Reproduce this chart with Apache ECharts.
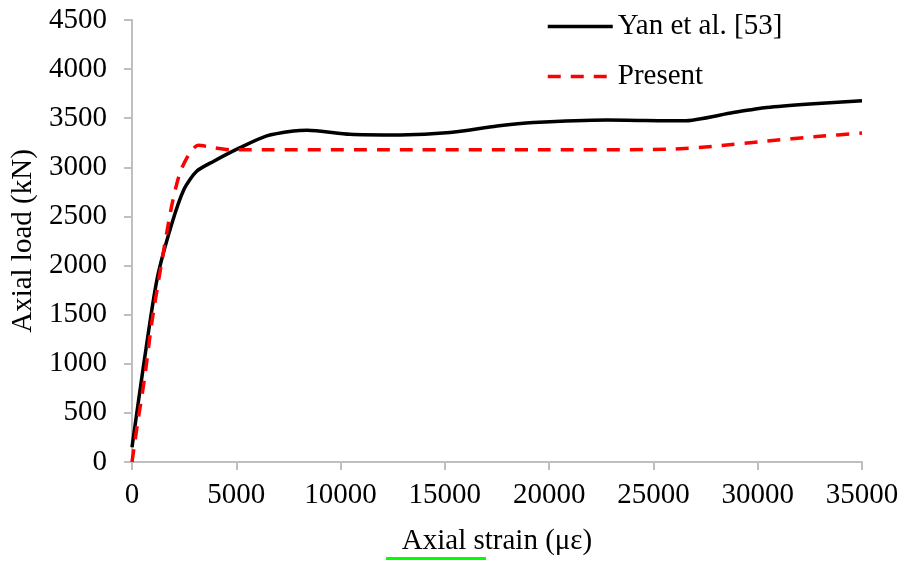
<!DOCTYPE html>
<html>
<head>
<meta charset="utf-8">
<title>Axial load vs axial strain</title>
<script src="https://cdn.jsdelivr.net/npm/echarts@6/dist/echarts.min.js"></script>
<style>
  html, body { margin: 0; padding: 0; background: #fff; }
  #chart { width: 905px; height: 562px; }
</style>
</head>
<body>
<div id="chart"></div>
<script>
// strain (με), load (kN)
const yanStrain = [0, 600, 1200, 1900, 2500, 3100, 3900, 5180, 6460, 7740, 8400, 10450, 12850, 15250, 17500, 19240, 22760, 26430, 28830, 30430, 32500, 35000]
const yanLoad = [150, 1050, 1860, 2420, 2780, 2960, 3060, 3200, 3320, 3370, 3378, 3337, 3330, 3354, 3420, 3456, 3483, 3473, 3558, 3609, 3645, 3677]

const presentStrain = [0, 250, 600, 950, 1420, 1900, 2300, 2780, 3180, 3900, 4700, 5500, 12850, 20000, 25640, 28030, 30430, 32830, 35000]
const presentLoad = [0, 370, 850, 1420, 2030, 2605, 2946, 3150, 3224, 3200, 3178, 3178, 3178, 3178, 3184, 3217, 3268, 3313, 3350]

const xTicks = { min: 0, max: 35000, interval: 5000 }
const yTicks = { min: 0, max: 4500, interval: 500 }

const pair = (xs, ys) => xs.map((x, i) => [x, ys[i]])

const font = 'Liberation Serif'
const axisGrey = '#bfbfbf'

const chart = echarts.init(document.getElementById('chart'))

chart.setOption({
  animation: false,
  backgroundColor: '#fff',
  grid: {
    left: 132,
    right: 43,
    top: 20,
    bottom: 100,
  },
  legend: {
    orient: 'vertical',
    left: 541,
    top: 7,
    itemWidth: 65,
    itemHeight: 14,
    itemGap: 21,
    itemStyle: { opacity: 0 },
    lineStyle: { width: 3.5 },
    textStyle: {
      fontFamily: font,
      fontSize: 29,
      color: '#000',
    },
    data: ['Yan et al. [53]', 'Present'],
  },
  xAxis: {
    type: 'value',
    min: xTicks.min,
    max: xTicks.max,
    interval: xTicks.interval,
    name: 'Axial strain (με)',
    nameLocation: 'middle',
    nameGap: 65,
    nameTextStyle: {
      fontFamily: font,
      fontSize: 29,
      color: '#000',
    },
    axisLine: { lineStyle: { color: axisGrey, width: 2 } },
    axisTick: { length: 8, lineStyle: { color: axisGrey, width: 2 } },
    axisLabel: {
      margin: 19,
      fontFamily: font,
      fontSize: 29,
      color: '#000',
      formatter: (v) => String(v),
    },
    splitLine: { show: false },
  },
  yAxis: {
    type: 'value',
    min: yTicks.min,
    max: yTicks.max,
    interval: yTicks.interval,
    name: 'Axial load (kN)',
    nameLocation: 'middle',
    nameGap: 90,
    nameTextStyle: {
      fontFamily: font,
      fontSize: 29,
      color: '#000',
    },
    axisLine: { show: true, lineStyle: { color: axisGrey, width: 2 } },
    axisTick: { show: true, length: 8, lineStyle: { color: axisGrey, width: 2 } },
    axisLabel: {
      margin: 25,
      fontFamily: font,
      fontSize: 29,
      color: '#000',
      formatter: (v) => String(v),
    },
    splitLine: { show: false },
  },
  graphic: [
    {
      type: 'rect',
      shape: { x: 386, y: 557, width: 100, height: 3 },
      style: { fill: '#00ff00' },
      silent: true,
    },
  ],
  series: [
    {
      name: 'Yan et al. [53]',
      type: 'line',
      data: pair(yanStrain, yanLoad),
      smooth: 0.25,
      symbol: 'none',
      color: '#000',
      lineStyle: { color: '#000', width: 3.5 },
    },
    {
      name: 'Present',
      type: 'line',
      data: pair(presentStrain, presentLoad),
      smooth: 0.25,
      symbol: 'none',
      color: '#ff0000',
      lineStyle: { color: '#ff0000', width: 3.5, type: [13, 10] },
    },
  ],
})
</script>
</body>
</html>
